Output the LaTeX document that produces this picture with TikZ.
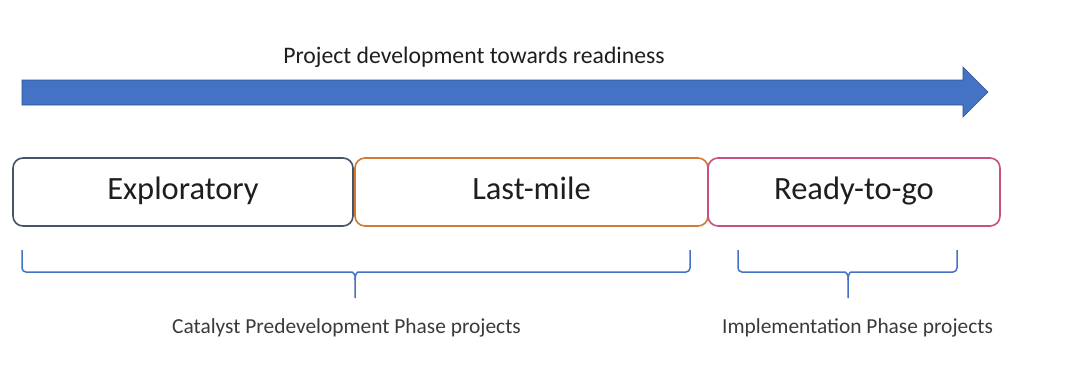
\documentclass[tikz,border=0pt]{standalone}
\usepackage{fontspec}
\setmainfont{Carlito}
\definecolor{arrowblue}{HTML}{4472C4}
\definecolor{arrowedge}{HTML}{2F528F}
\definecolor{c1}{HTML}{44546A}
\definecolor{c2}{HTML}{D07A35}
\definecolor{c3}{HTML}{C95080}
\definecolor{txt}{HTML}{1E1E1E}
\definecolor{txt2}{HTML}{3A3A3A}
\tikzset{
  phasebox/.style={draw, line width=1.6pt, rounded corners=10pt, fill=white, text=txt,
    font=\fontsize{32.5}{38}\selectfont, inner sep=0pt, text height=23pt, text depth=8pt},
  bracepath/.style={draw=arrowblue, line width=1.5pt, rounded corners=4pt},
  smalllabel/.style={text=txt2, font=\fontsize{21.4}{25}\selectfont, inner sep=0pt},
}
\begin{document}
\begin{tikzpicture}[x=1pt,y=-1pt]
\useasboundingbox (0,0) rectangle (1065,364);
% big arrow
\filldraw[fill=arrowblue, draw=arrowedge, line width=0.6pt]
  (22,80) -- (963,80) -- (963,67) -- (988,92) -- (963,117) -- (963,105) -- (22,105) -- cycle;
\node[smalllabel, text=txt, font=\fontsize{23.7}{28}\selectfont, anchor=base] (title) at (474,63) {Project development towards readiness};
% phase boxes
\node[phasebox, draw=c1, minimum width=340pt, minimum height=68pt] (expl) at (183,192) {Exploratory};
\node[phasebox, draw=c2, minimum width=353pt, minimum height=68pt] (last) at (531.5,192) {Last-mile};
\node[phasebox, draw=c3, minimum width=292pt, minimum height=68pt] (ready) at (854,192) {Ready-to-go};
% braces
\coordinate (b1) at (355,298);
\coordinate (b2) at (848,298);
\path[bracepath] (22,250) -- (22,272) -- (348,272) .. controls (353,272) and (355,275) .. (355,280) -- (b1);
\path[bracepath] (690,250) -- (690,272) -- (362,272) .. controls (357,272) and (355,275) .. (355,280);
\path[bracepath] (738,250) -- (738,272) -- (841,272) .. controls (846,272) and (848,275) .. (848,280) -- (b2);
\path[bracepath] (957,250) -- (957,272) -- (855,272) .. controls (850,272) and (848,275) .. (848,280);
% labels
\node[smalllabel] (lab1) at (346.5,328) {Catalyst Predevelopment Phase projects};
\node[smalllabel] (lab2) at (857.5,328) {Implementation Phase projects};
\end{tikzpicture}
\end{document}
